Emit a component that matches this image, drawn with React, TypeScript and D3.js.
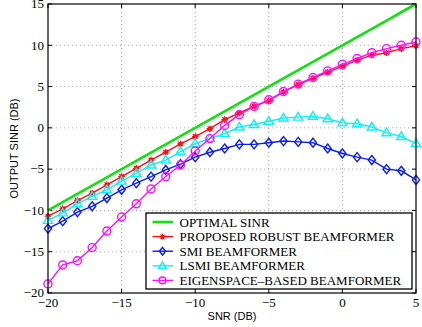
import React from 'react';
import * as d3 from 'd3';

// SNR grid (dB)
const snr = [-20, -19, -18, -17, -16, -15, -14, -13, -12, -11, -10, -9, -8, -7, -6, -5, -4, -3, -2, -1, 0, 1, 2, 3, 4, 5];

const optimal = [-10, -9, -8, -7, -6, -5, -4, -3, -2, -1, 0, 1, 2, 3, 4, 5, 6, 7, 8, 9, 10, 11, 12, 13, 14, 15];
const proposed = [-10.7, -9.8, -8.8, -7.9, -6.9, -5.9, -4.9, -3.9, -2.95, -1.95, -1.05, -0.1, 1.0, 1.8, 2.6, 3.3, 4.35, 5.25, 6.0, 6.75, 7.45, 8.2, 8.8, 9.1, 9.6, 9.95];
const smi = [-12.2, -11.3, -10.2, -9.5, -8.5, -7.5, -6.7, -5.9, -5.1, -4.4, -3.55, -2.95, -2.5, -2.0, -2.0, -1.8, -1.6, -1.7, -1.8, -2.5, -3.1, -3.55, -3.9, -5.0, -5.2, -6.3];
const lsmi = [-11.2, -10.3, -9.2, -8.3, -7.5, -6.45, -5.5, -4.5, -3.9, -2.9, -1.9, -1.3, -0.7, 0.1, 0.4, 0.8, 1.2, 1.3, 1.4, 1.1, 0.6, 0.5, 0.1, -0.6, -1.05, -1.9];
const eigen = [-18.9, -16.6, -16.1, -14.5, -12.5, -10.8, -9.2, -7.4, -5.9, -4.5, -2.8, -1.3, 0.3, 1.6, 2.6, 3.4, 4.4, 5.3, 6.1, 6.9, 7.7, 8.4, 9.1, 9.6, 10.0, 10.4];

const xTicks = [-20, -15, -10, -5, 0, 5];
const yTicks = [-20, -15, -10, -5, 0, 5, 10, 15];

const seriesNames = ['OPTIMAL SINR', 'PROPOSED ROBUST BEAMFORMER', 'SMI BEAMFORMER', 'LSMI BEAMFORMER', 'EIGENSPACE\u2013BASED BEAMFORMER'];

const series = [
  { name: seriesNames[0], values: optimal, color: '#11e011', width: 2.6, marker: 'none' },
  { name: seriesNames[1], values: proposed, color: '#ff1010', width: 1.4, marker: 'star' },
  { name: seriesNames[2], values: smi, color: '#0a1ef0', width: 1.4, marker: 'diamond' },
  { name: seriesNames[3], values: lsmi, color: '#10f0f0', width: 1.4, marker: 'triangle' },
  { name: seriesNames[4], values: eigen, color: '#ff10ff', width: 1.4, marker: 'circle' },
];

const SERIF = "'Liberation Serif', 'Times New Roman', 'DejaVu Serif', serif";
const SANS = "'Liberation Sans', Arial, sans-serif";

const fmt = (v: number) => (v < 0 ? '\u2212' + Math.abs(v) : String(v));

function Marker({ type, x, y, color, s = 1 }: { type: string; x: number; y: number; color: string; s?: number }) {
  if (type === 'circle') {
    return <circle cx={x} cy={y} r={4 * s} fill="none" stroke={color} strokeWidth={1.4} />;
  }
  if (type === 'diamond') {
    return <path d={`M${x},${y - 4.5 * s}L${x + 3.6 * s},${y}L${x},${y + 4.5 * s}L${x - 3.6 * s},${y}Z`} fill="none" stroke={color} strokeWidth={1.4} />;
  }
  if (type === 'triangle') {
    return <path d={`M${x},${y - 4.6 * s}L${x + 4.6 * s},${y + 3 * s}L${x - 4.6 * s},${y + 3 * s}Z`} fill="none" stroke={color} strokeWidth={1.4} />;
  }
  if (type === 'star') {
    const r = 3.3 * s;
    const lines = [0, 45, 90, 135].map(a => {
      const t = (a * Math.PI) / 180;
      return `M${x - r * Math.cos(t)},${y - r * Math.sin(t)}L${x + r * Math.cos(t)},${y + r * Math.sin(t)}`;
    });
    return (
      <g>
        <circle cx={x} cy={y} r={2 * s} fill={color} />
        <path d={lines.join('')} stroke={color} strokeWidth={1.3} />
      </g>
    );
  }
  return null;
}

export default function App() {
  const W = 422;
  const H = 327;
  const left = 48, right = 416, top = 4, bottom = 293;

  const x = d3.scaleLinear().domain([-20, 5]).range([left, right]);
  const y = d3.scaleLinear().domain([-20, 15]).range([bottom, top]);
  const line = d3.line<number>().x((_, i) => x(snr[i])).y(d => y(d));

  // legend box
  const lg = { x: 146, y: 213, w: 266, h: 76 };
  const rowH = 14.6;

  return (
    <svg width={W} height={H} style={{ position: 'absolute', left: 0, top: 0, background: '#fff' }}>
      <rect x={0} y={0} width={W} height={H} fill="#fff" />
      {/* grid */}
      {xTicks.slice(1, -1).map(t => (
        <line key={'gx' + t} x1={x(t)} x2={x(t)} y1={top} y2={bottom} stroke="#999" strokeWidth={0.8} strokeDasharray="1,3" />
      ))}
      {yTicks.slice(1, -1).map(t => (
        <line key={'gy' + t} x1={left} x2={right} y1={y(t)} y2={y(t)} stroke="#999" strokeWidth={0.8} strokeDasharray="1,3" />
      ))}
      {/* tick marks */}
      {xTicks.map(t => (
        <g key={'tx' + t}>
          <line x1={x(t)} x2={x(t)} y1={bottom} y2={bottom - 4} stroke="#000" />
          <line x1={x(t)} x2={x(t)} y1={top} y2={top + 4} stroke="#000" />
          <text x={x(t)} y={bottom + 14} textAnchor="middle" fontFamily={SERIF} fontSize={13}>{fmt(t)}</text>
        </g>
      ))}
      {yTicks.map(t => (
        <g key={'ty' + t}>
          <line x1={left} x2={left + 4} y1={y(t)} y2={y(t)} stroke="#000" />
          <line x1={right} x2={right - 4} y1={y(t)} y2={y(t)} stroke="#000" />
          <text x={left - 4} y={y(t) + 4.3} textAnchor="end" fontFamily={SERIF} fontSize={13}>{fmt(t)}</text>
        </g>
      ))}
      {/* series */}
      {series.map(s => (
        <g key={s.name}>
          <path d={line(s.values) || ''} fill="none" stroke={s.color} strokeWidth={s.width} />
          {s.values.map((v, i) => (
            <Marker key={i} type={s.marker} x={x(snr[i])} y={y(v)} color={s.color} />
          ))}
        </g>
      ))}
      {/* frame */}
      <rect x={left} y={top} width={right - left} height={bottom - top} fill="none" stroke="#000" strokeWidth={1.2} />
      {/* legend */}
      <rect x={lg.x} y={lg.y} width={lg.w} height={lg.h} fill="#fff" stroke="#000" strokeWidth={1.3} />
      {series.map((s, i) => {
        const ry = lg.y + 9 + i * rowH;
        return (
          <g key={'lg' + i}>
            <line x1={lg.x + 6.5} x2={lg.x + 27} y1={ry} y2={ry} stroke={s.color} strokeWidth={s.width} />
            <Marker type={s.marker} x={lg.x + 16.5} y={ry} color={s.color} s={0.85} />
            <text x={lg.x + 33.5} y={ry + 4.5} fontFamily={SERIF} fontSize={13}>{s.name}</text>
          </g>
        );
      })}
      {/* axis labels */}
      <text x={(left + right) / 2} y={320} textAnchor="middle" fontFamily={SANS} fontSize={11}>SNR (DB)</text>
      <text transform={`translate(18,${(top + bottom) / 2}) rotate(-90)`} textAnchor="middle" fontFamily={SANS} fontSize={11}>OUTPUT SINR (DB)</text>
    </svg>
  );
}
